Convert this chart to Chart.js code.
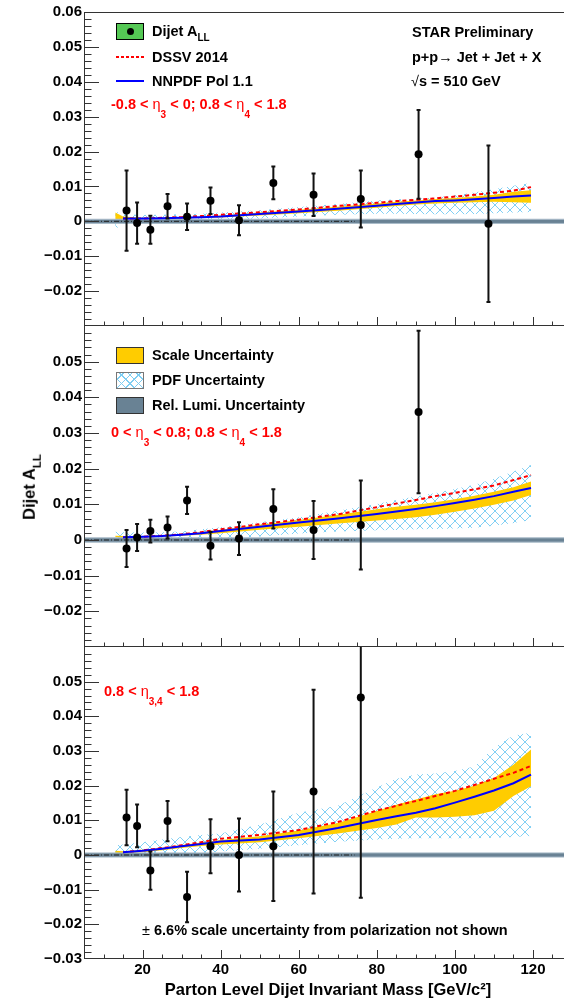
<!DOCTYPE html>
<html><head><meta charset="utf-8">
<script src="https://cdn.jsdelivr.net/npm/chart.js@4.4.1/dist/chart.umd.min.js"></script>
<style>
html,body{margin:0;padding:0;background:#fff;overflow:hidden;width:564px;height:1000px;}
#wrap{position:relative;width:564px;height:1000px;overflow:hidden;background:#fff;}
canvas{position:absolute;left:0;}
.t{position:absolute;font-family:"Liberation Sans",Arial,Helvetica,sans-serif;font-weight:bold;font-size:14.5px;line-height:14.5px;white-space:nowrap;color:#000;}
.red{color:#ff0000;}
.t sub{font-size:10px;line-height:0;vertical-align:baseline;position:relative;}
.s1{top:5px;}
.s2{top:9px;}
.box{position:absolute;box-sizing:border-box;}
.thin{font-weight:normal;}
</style></head>
<body>
<div id="wrap">
 <canvas id="cTop" width="572" height="326" style="top:0px"></canvas>
 <canvas id="cMid" width="572" height="321" style="top:326px"></canvas>
 <canvas id="cBot" width="572" height="353" style="top:647px"></canvas>

 <!-- top panel legend -->
 <div class="box" style="left:116px;top:23px;width:28px;height:17px;background:rgb(85,200,85);border:1px solid #000;"></div>
 <div class="box" style="left:126.5px;top:28px;width:7px;height:7px;border-radius:50%;background:#000;"></div>
 <div class="t" style="left:152px;top:24px;">Dijet A<sub class="s1">LL</sub></div>
 <div class="box" style="left:116px;top:56px;width:28px;height:2px;background:repeating-linear-gradient(90deg,#f00 0 3px,transparent 3px 5px);"></div>
 <div class="t" style="left:152px;top:49.5px;">DSSV 2014</div>
 <div class="box" style="left:116px;top:80px;width:28px;height:2px;background:#0000ff;"></div>
 <div class="t" style="left:152px;top:73.75px;">NNPDF Pol 1.1</div>
 <div class="t red" style="left:111px;top:97px;">-0.8 &lt; <span class="thin">η</span><sub class="s2">3</sub> &lt; 0; 0.8 &lt; <span class="thin">η</span><sub class="s2">4</sub> &lt; 1.8</div>
 <div class="t" style="left:412px;top:24.5px;">STAR Preliminary</div>
 <div class="t" style="left:412px;top:49.5px;">p+p<span class="thin">→</span> Jet + Jet + X</div>
 <div class="t" style="left:411px;top:73.75px;"><span class="thin">√</span>s = 510 GeV</div>

 <!-- middle panel legend -->
 <div class="box" style="left:116px;top:347px;width:28px;height:17px;background:#ffcc00;border:1px solid #333;"></div>
 <div class="t" style="left:152px;top:347.75px;">Scale Uncertainty</div>
 <div class="box" style="left:116px;top:372px;width:28px;height:17px;border:1px solid #777;background-color:#fff;background-image:repeating-linear-gradient(45deg,rgb(125,205,242) 0 1px,transparent 1px 6px),repeating-linear-gradient(-45deg,rgb(125,205,242) 0 1px,transparent 1px 6px);"></div>
 <div class="t" style="left:152px;top:372.75px;">PDF Uncertainty</div>
 <div class="box" style="left:116px;top:397px;width:28px;height:17px;background:rgb(105,130,148);border:1px solid #333;"></div>
 <div class="t" style="left:152px;top:397.75px;">Rel. Lumi. Uncertainty</div>
 <div class="t red" style="left:111px;top:424.5px;">0 &lt; <span class="thin">η</span><sub class="s2">3</sub> &lt; 0.8; 0.8 &lt; <span class="thin">η</span><sub class="s2">4</sub> &lt; 1.8</div>

 <!-- bottom panel -->
 <div class="t red" style="left:104px;top:683.5px;">0.8 &lt; <span class="thin">η</span><sub class="s2">3,4</sub> &lt; 1.8</div>
 <div class="t" style="left:142px;top:922.75px;"><span class="thin">±</span> 6.6% scale uncertainty from polarization not shown</div>

 <!-- y axis title -->
 <div class="t" style="left:29px;top:487px;font-size:16.5px;line-height:16.5px;transform:translate(-50%,-50%) rotate(-90deg);">Dijet A<sub style="font-size:11.5px;top:5.5px;">LL</sub></div>
</div>

<script>
// ---------------- axes ----------------
const xMin = 5, xMax = 130;
const yMin = -0.03, yMax = 0.06;
const xTickLabels = [20, 40, 60, 80, 100, 120];
const xMajorStep = 20, xMinorStep = 5;
const yMajorStep = 0.01, yMinorStep = 0.002;
const yTickLabelsTop = [0.06, 0.05, 0.04, 0.03, 0.02, 0.01, 0, -0.01, -0.02];
const yTickLabelsMid = [0.05, 0.04, 0.03, 0.02, 0.01, 0, -0.01, -0.02];
const yTickLabelsBot = [0.05, 0.04, 0.03, 0.02, 0.01, 0, -0.01, -0.02, -0.03];
const xTitle = 'Parton Level Dijet Invariant Mass [GeV/c\u00b2]';

// ---------------- measured points ----------------
const binMass = [15.9, 18.6, 22.0, 26.4, 31.4, 37.4, 44.7, 53.5, 63.8, 75.9, 90.7, 108.6];
const allTop = [0.0031, -0.0005, -0.0024, 0.0043, 0.0013, 0.0059, 0.0003, 0.0110, 0.0076, 0.0064, 0.0192, -0.0007];
const errTop = [0.0115, 0.0059, 0.0040, 0.0035, 0.0038, 0.0038, 0.0043, 0.0047, 0.0061, 0.0082, 0.0127, 0.0224];
const allMid = [-0.0024, 0.0007, 0.0025, 0.0035, 0.0111, -0.0016, 0.0004, 0.0087, 0.0028, 0.0042, 0.0359, null];
const errMid = [0.0052, 0.0038, 0.0032, 0.0031, 0.0038, 0.0039, 0.0046, 0.0055, 0.0081, 0.0125, 0.0228, null];
const allBot = [0.0108, 0.0084, -0.0045, 0.0098, -0.0121, 0.0025, 0.0000, 0.0025, 0.0183, 0.0454, null, null];
const errBot = [0.0080, 0.0062, 0.0055, 0.0058, 0.0073, 0.0078, 0.0105, 0.0158, 0.0294, 0.0577, null, null];

// ---------------- theory ----------------
const thMass = [13, 15, 20, 25, 30, 35, 40, 50, 60, 70, 80, 85, 90, 95, 100, 105, 110, 115, 119.5];

const nnpdfTop   = [null, 0.0008, 0.0008, 0.0009, 0.0010, 0.0012, 0.0014, 0.0021, 0.0028, 0.0036, 0.0045, 0.0050, 0.0054, 0.0058, 0.0060, 0.0063, 0.0067, 0.0071, 0.0074];
const dssvTop    = [null, 0.0008, 0.0008, 0.0010, 0.0012, 0.0015, 0.0019, 0.0026, 0.0034, 0.0044, 0.0053, 0.0058, 0.0062, 0.0066, 0.0071, 0.0076, 0.0082, 0.0088, 0.0098];
const scaleLoTop = [0.0006, 0.0006, 0.0006, 0.0007, 0.0008, 0.0010, 0.0011, 0.0017, 0.0023, 0.0030, 0.0039, 0.0044, 0.0048, 0.0051, 0.0053, 0.0055, 0.0056, 0.0055, 0.0053];
const scaleHiTop = [0.0025, 0.0014, 0.0010, 0.0011, 0.0012, 0.0014, 0.0017, 0.0025, 0.0033, 0.0042, 0.0051, 0.0056, 0.0060, 0.0064, 0.0067, 0.0071, 0.0076, 0.0085, 0.0089];
const pdfLoTop   = [-0.0022, -0.0008, 0.0000, 0.0001, 0.0002, 0.0003, 0.0004, 0.0008, 0.0014, 0.0019, 0.0022, 0.0022, 0.0021, 0.0020, 0.0020, 0.0021, 0.0023, 0.0025, 0.0027];
const pdfHiTop   = [0.0028, 0.0020, 0.0018, 0.0019, 0.0020, 0.0022, 0.0025, 0.0032, 0.0041, 0.0050, 0.0060, 0.0063, 0.0065, 0.0068, 0.0075, 0.0083, 0.0092, 0.0102, 0.0110];

const nnpdfMid   = [null, 0.0008, 0.0009, 0.0011, 0.0015, 0.0019, 0.0025, 0.0037, 0.0049, 0.0060, 0.0073, 0.0080, 0.0087, 0.0095, 0.0104, 0.0113, 0.0123, 0.0135, 0.0146];
const dssvMid    = [null, 0.0008, 0.0009, 0.0012, 0.0016, 0.0022, 0.0030, 0.0044, 0.0057, 0.0072, 0.0092, 0.0102, 0.0112, 0.0123, 0.0132, 0.0142, 0.0153, 0.0168, 0.0182];
const scaleLoMid = [0.0008, 0.0006, 0.0007, 0.0009, 0.0012, 0.0015, 0.0019, 0.0029, 0.0037, 0.0046, 0.0055, 0.0059, 0.0064, 0.0071, 0.0079, 0.0088, 0.0099, 0.0111, 0.0126];
const scaleHiMid = [0.0012, 0.0011, 0.0011, 0.0013, 0.0017, 0.0022, 0.0029, 0.0043, 0.0056, 0.0071, 0.0086, 0.0093, 0.0099, 0.0106, 0.0114, 0.0124, 0.0135, 0.0148, 0.0164];
const pdfLoMid   = [-0.0006, -0.0006, -0.0005, -0.0005, -0.0004, -0.0001, 0.0002, 0.0010, 0.0018, 0.0024, 0.0027, 0.0028, 0.0030, 0.0031, 0.0032, 0.0034, 0.0040, 0.0048, 0.0056];
const pdfHiMid   = [0.0023, 0.0022, 0.0021, 0.0022, 0.0024, 0.0030, 0.0036, 0.0050, 0.0064, 0.0082, 0.0101, 0.0112, 0.0122, 0.0132, 0.0143, 0.0155, 0.0172, 0.0192, 0.0210];

const nnpdfBot   = [null, 0.0008, 0.0012, 0.0018, 0.0025, 0.0032, 0.0039, 0.0045, 0.0058, 0.0078, 0.0101, 0.0112, 0.0122, 0.0135, 0.0151, 0.0168, 0.0186, 0.0207, 0.0232];
const dssvBot    = [null, 0.0008, 0.0013, 0.0020, 0.0028, 0.0037, 0.0047, 0.0058, 0.0072, 0.0095, 0.0128, 0.0142, 0.0156, 0.0170, 0.0185, 0.0202, 0.0220, 0.0237, 0.0257];
const scaleLoBot = [0.0002, 0.0004, 0.0008, 0.0014, 0.0020, 0.0026, 0.0030, 0.0037, 0.0048, 0.0062, 0.0078, 0.0088, 0.0108, 0.0108, 0.0110, 0.0115, 0.0128, 0.0170, 0.0198];
const scaleHiBot = [0.0012, 0.0011, 0.0015, 0.0021, 0.0029, 0.0036, 0.0043, 0.0054, 0.0071, 0.0092, 0.0127, 0.0145, 0.0160, 0.0175, 0.0185, 0.0200, 0.0222, 0.0260, 0.0304];
const pdfLoBot   = [-0.0005, -0.0004, -0.0003, 0.0000, 0.0003, 0.0006, 0.0010, 0.0018, 0.0028, 0.0038, 0.0045, 0.0047, 0.0048, 0.0048, 0.0048, 0.0048, 0.0050, 0.0052, 0.0055];
const pdfHiBot   = [0.0028, 0.0030, 0.0037, 0.0045, 0.0052, 0.0058, 0.0062, 0.0088, 0.0122, 0.0142, 0.0195, 0.0220, 0.0232, 0.0235, 0.0242, 0.0255, 0.0310, 0.0345, 0.0353];

// relative luminosity band and zero reference line
const lumiMass = [5, 130];
const lumiUnc = 0.0006;
const zeroLineMass = [5, 74.3];

// ---------------- helpers ----------------
const FONT = "'Liberation Sans', Arial, Helvetica, sans-serif";
Chart.defaults.font.family = FONT;

function pts(xs, ys, errs) {
  const out = [];
  xs.forEach((x, i) => {
    if (ys[i] === null || ys[i] === undefined) return;
    const p = {x: x, y: ys[i]};
    if (errs) p.e = errs[i];
    out.push(p);
  });
  return out;
}

function makeHatch() {
  const c = document.createElement('canvas');
  c.width = 10; c.height = 10;
  const g = c.getContext('2d');
  g.strokeStyle = 'rgb(130,208,244)';
  g.lineWidth = 1;
  g.beginPath();
  g.moveTo(0, 0); g.lineTo(10, 10);
  g.moveTo(10, 0); g.lineTo(0, 10);
  g.stroke();
  return g.createPattern(c, 'repeat');
}
const hatch = makeHatch();

const errorBars = {
  id: 'errorBars',
  beforeDatasetDraw(chart, args) {
    const ds = chart.data.datasets[args.index];
    if (!ds.isData) return;
    const {ctx, chartArea: a, scales: {x, y}} = chart;
    ctx.save();
    ctx.beginPath();
    ctx.rect(a.left, a.top, a.right - a.left, a.bottom - a.top);
    ctx.clip();
    ctx.strokeStyle = '#111';
    ctx.lineWidth = 2;
    ds.data.forEach(p => {
      const px = x.getPixelForValue(p.x);
      const yt = y.getPixelForValue(p.y + p.e);
      const yb = y.getPixelForValue(p.y - p.e);
      ctx.beginPath();
      ctx.moveTo(px, yt); ctx.lineTo(px, yb);
      ctx.moveTo(px - 2, yt); ctx.lineTo(px + 2, yt);
      ctx.moveTo(px - 2, yb); ctx.lineTo(px + 2, yb);
      ctx.stroke();
    });
    ctx.restore();
  }
};

const frameTicks = {
  id: 'frameTicks',
  afterDraw(chart, args, opts) {
    const {ctx, chartArea: a, scales: {x, y}} = chart;
    ctx.save();
    ctx.strokeStyle = '#333';
    ctx.lineWidth = 1;
    const n0 = Math.round(y.min / yMinorStep), n1 = Math.round(y.max / yMinorStep);
    for (let k = n0 + 1; k < n1; k++) {
      const v = k * yMinorStep;
      const r = v / yMajorStep;
      const major = Math.abs(r - Math.round(r)) < 1e-6;
      const py = Math.round(y.getPixelForValue(v)) + 0.5;
      ctx.beginPath();
      ctx.moveTo(a.left, py);
      ctx.lineTo(a.left + (major ? 15 : 7.5), py);
      ctx.stroke();
    }
    for (let v = xMin + xMinorStep; v < xMax; v += xMinorStep) {
      const major = v % xMajorStep === 0;
      const px = Math.round(x.getPixelForValue(v)) + 0.5;
      ctx.beginPath();
      ctx.moveTo(px, a.bottom);
      ctx.lineTo(px, a.bottom - (major ? 9 : 4.5));
      ctx.stroke();
    }
    ctx.beginPath();
    ctx.moveTo(a.left + 0.5, a.top);
    ctx.lineTo(a.left + 0.5, a.bottom);
    ctx.moveTo(a.left, a.bottom - 0.5);
    ctx.lineTo(a.right, a.bottom - 0.5);
    if (opts.top) { ctx.moveTo(a.left, a.top + 0.5); ctx.lineTo(a.right, a.top + 0.5); }
    ctx.stroke();
    ctx.restore();
  }
};

function yLabel(v) {
  if (Math.abs(v) < 1e-9) return '0';
  return (v < 0 ? '\u2212' : '') + Math.abs(v).toFixed(2);
}

function band(lo, hi, color, order) {
  return [
    {type: 'line', data: pts(thMass, lo), borderWidth: 0, borderColor: 'rgba(0,0,0,0)', pointRadius: 0, fill: false, order: order},
    {type: 'line', data: pts(thMass, hi), borderWidth: 0, borderColor: 'rgba(0,0,0,0)', pointRadius: 0, fill: '-1', backgroundColor: color, order: order}
  ];
}

function makePanel(id, p) {
  const datasets = [
    ...band(p.pdfLo, p.pdfHi, hatch, 10),
    ...band(p.scaleLo, p.scaleHi, '#ffcc00', 9),
    {type: 'line', data: pts(lumiMass, lumiMass.map(() => -lumiUnc)), borderWidth: 1, borderColor: 'rgb(170,188,202)', pointRadius: 0, fill: false, order: 8},
    {type: 'line', data: pts(lumiMass, lumiMass.map(() => lumiUnc)), borderWidth: 1, borderColor: 'rgb(170,188,202)', pointRadius: 0, fill: '-1', backgroundColor: 'rgb(105,130,148)', order: 8},
    {type: 'line', data: pts(zeroLineMass, zeroLineMass.map(() => 0)), borderWidth: 1, borderColor: '#222', borderDash: [5, 2, 1, 2], pointRadius: 0, fill: false, order: 7},
    {type: 'line', label: 'DSSV 2014', data: pts(thMass, p.dssv), borderWidth: 2, borderColor: '#ff0000', borderDash: [4, 3], pointRadius: 0, fill: false, order: 6},
    {type: 'line', label: 'NNPDF Pol 1.1', data: pts(thMass, p.nnpdf), borderWidth: 2, borderColor: '#0000ff', pointRadius: 0, fill: false, order: 5},
    {type: 'line', label: 'Dijet ALL', isData: true, data: pts(binMass, p.all, p.err), showLine: false, pointRadius: 4, pointHoverRadius: 4, pointBackgroundColor: '#000', pointBorderColor: '#000', pointBorderWidth: 0, order: 1}
  ];
  const xScale = {
    type: 'linear', min: xMin, max: xMax, bounds: 'data', display: p.bottom,
    grid: {display: false, drawTicks: false}, border: {display: false},
    ticks: {display: true, padding: 2, autoSkip: false, maxRotation: 0, color: '#000', font: {size: 15, weight: 'bold'}},
    afterBuildTicks(s) { s.ticks = xTickLabels.map(v => ({value: v})); }
  };
  if (p.bottom) {
    xScale.title = {display: true, text: xTitle, color: '#000', font: {size: 16.5, weight: 'bold'}, padding: {top: 0, bottom: 0}};
    xScale.afterFit = s => { s.height = 41; s.paddingLeft = 0; s.paddingRight = 0; };
  }
  new Chart(document.getElementById(id), {
    type: 'line',
    data: {datasets},
    options: {
      responsive: false, animation: false, devicePixelRatio: 1,
      layout: {autoPadding: false, padding: {top: p.padTop, left: 0, right: 0, bottom: 0}},
      events: [],
      plugins: {legend: {display: false}, tooltip: {enabled: false}, frameTicks: {top: p.top}},
      elements: {line: {tension: 0}},
      scales: {
        x: xScale,
        y: {
          type: 'linear', min: yMin, max: yMax, bounds: 'data',
          grid: {display: false, drawTicks: false}, border: {display: false},
          ticks: {padding: 2, color: '#000', font: {size: 15, weight: 'bold'}, callback: v => yLabel(v)},
          afterBuildTicks(s) { s.ticks = p.yLabels.map(v => ({value: v})); },
          afterFit(s) { s.width = 84; s.paddingTop = 0; s.paddingBottom = 0; }
        }
      }
    },
    plugins: [errorBars, frameTicks]
  });
}

makePanel('cTop', {all: allTop, err: errTop, nnpdf: nnpdfTop, dssv: dssvTop, scaleLo: scaleLoTop, scaleHi: scaleHiTop, pdfLo: pdfLoTop, pdfHi: pdfHiTop, yLabels: yTickLabelsTop, padTop: 12, top: true, bottom: false});
makePanel('cMid', {all: allMid, err: errMid, nnpdf: nnpdfMid, dssv: dssvMid, scaleLo: scaleLoMid, scaleHi: scaleHiMid, pdfLo: pdfLoMid, pdfHi: pdfHiMid, yLabels: yTickLabelsMid, padTop: 0, top: false, bottom: false});
makePanel('cBot', {all: allBot, err: errBot, nnpdf: nnpdfBot, dssv: dssvBot, scaleLo: scaleLoBot, scaleHi: scaleHiBot, pdfLo: pdfLoBot, pdfHi: pdfHiBot, yLabels: yTickLabelsBot, padTop: 0, top: false, bottom: true});
</script>
</body></html>
